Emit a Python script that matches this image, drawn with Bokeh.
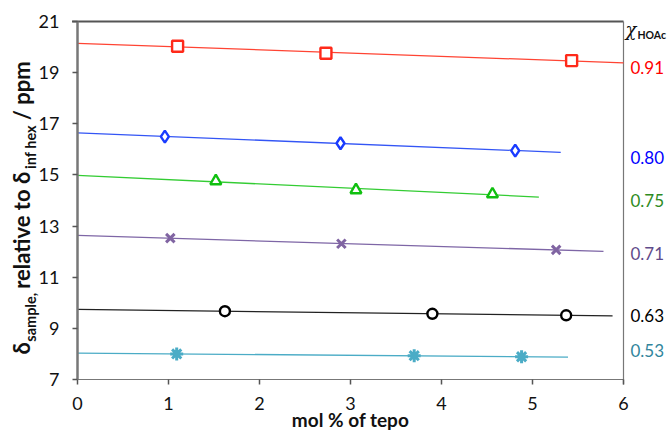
import numpy as np
from bokeh.plotting import figure
from bokeh.models import Range1d, FixedTicker, Label
from bokeh.embed import file_html
from bokeh.resources import INLINE

# ---- data ----
x_ticks = [0, 1, 2, 3, 4, 5, 6]
y_ticks = [7, 9, 11, 13, 15, 17, 19, 21]

x_091 = [1.10, 2.73, 5.43]
y_091 = [20.03, 19.76, 19.47]
x_080 = [0.96, 2.89, 4.81]
y_080 = [16.50, 16.24, 15.95]
x_075 = [1.52, 3.06, 4.56]
y_075 = [14.76, 14.41, 14.25]
x_071 = [1.02, 2.90, 5.26]
y_071 = [12.53, 12.31, 12.07]
x_063 = [1.62, 3.90, 5.37]
y_063 = [9.67, 9.57, 9.51]
x_053 = [1.09, 3.70, 4.88]
y_053 = [8.00, 7.93, 7.89]

# trendline extent (x) for each series
trend_end_091 = 6.0
trend_end_080 = 5.31
trend_end_075 = 5.07
trend_end_071 = 5.78
trend_end_063 = 5.88
trend_end_053 = 5.39

chi_labels = ["0.91", "0.80", "0.75", "0.71", "0.63", "0.53"]

FONT = "Lato"
W, H = 669, 432
# frame spans the whole canvas; axes are pinned at x=0 / y=7
px_per_x = 91.0
px_per_y = 25.571
x0_px, y21_px = 77.0, 21.0
x_start = x_ticks[0] - x0_px / px_per_x
x_end = x_start + W / px_per_x
y_end = y_ticks[-1] + y21_px / px_per_y
y_start = y_end - H / px_per_y


def py2y(py):
    return y_end - py / px_per_y


def px2x(px):
    return x_start + px / px_per_x


p = figure(width=W, height=H, output_backend="svg", toolbar_location=None,
           x_range=Range1d(x_start, x_end), y_range=Range1d(y_start, y_end),
           min_border=0, min_border_left=0, min_border_right=0,
           min_border_top=0, min_border_bottom=0)
p.grid.visible = False
p.outline_line_color = None

# frame box (top and right edges)
p.line([x_ticks[0] - 0.06, x_ticks[-1]], [y_ticks[-1], y_ticks[-1]],
       line_color="#555555", line_width=2)
p.line([x_ticks[-1], x_ticks[-1]], [y_ticks[0] - 0.2, y_ticks[-1]],
       line_color="#777777", line_width=1.2)

series = [
    (x_091, y_091, trend_end_091, "square", "#FF2A1A", "#FF4433", 11),
    (x_080, y_080, trend_end_080, "diamond", "#1A3CFF", "#3355F5", 12),
    (x_075, y_075, trend_end_075, "triangle", "#10C010", "#33CC33", 11),
    (x_071, y_071, trend_end_071, "x", "#8064A2", "#7E66A6", 12),
    (x_063, y_063, trend_end_063, "circle", "#000000", "#222222", 10),
    (x_053, y_053, trend_end_053, "asterisk", "#4BACC6", "#4BACC6", 13),
]

for xs, ys, xend, marker, mcol, lcol, size in series:
    k, b = np.polyfit(xs, ys, 1)
    tx = [x_ticks[0], xend]
    ty = [b + k * x_ticks[0], b + k * xend]
    p.line(tx, ty, line_color=lcol, line_width=1.3)
    open_marker = marker not in ("x", "asterisk")
    p.scatter(xs, ys, marker=marker, size=size, line_color=mcol,
              fill_color="white" if open_marker else None,
              line_width=2.4 if open_marker else 3.0)

# axes pinned to the data origin
p.xaxis.fixed_location = y_ticks[0]
p.yaxis.fixed_location = x_ticks[0]
p.xaxis.bounds = (x_ticks[0], x_ticks[-1])
p.yaxis.bounds = (y_ticks[0], y_ticks[-1])
p.xaxis.ticker = FixedTicker(ticks=x_ticks)
p.yaxis.ticker = FixedTicker(ticks=y_ticks)
for ax in (p.xaxis[0], p.yaxis[0]):
    ax.major_label_text_font = FONT
    ax.major_label_text_font_size = "18px"
    ax.major_label_text_color = "#111111"
    ax.minor_tick_line_color = None
    ax.major_tick_in = 0
    ax.major_tick_out = 5
p.yaxis.axis_line_width = 2.5
p.yaxis.axis_line_color = "#777777"
p.yaxis.major_tick_line_color = "#555555"
p.yaxis.major_tick_line_width = 1.5
p.yaxis.major_label_standoff = 13
p.xaxis.axis_line_color = "#777777"
p.xaxis.axis_line_width = 1.2
p.xaxis.major_tick_line_color = "#555555"
p.xaxis.major_tick_line_width = 1.5
p.xaxis.major_label_standoff = 13

# x axis title
p.add_layout(Label(x=3, y=py2y(419), text="mol % of tepo", text_font=FONT,
                   text_font_style="bold", text_font_size="19px",
                   text_align="center", text_baseline="middle",
                   text_color="#111111"))

# y axis title built from pieces (rotated, reading bottom to top)
ang = np.pi / 2
MAIN_FS, SUB_FS = 22, 14.5
main_x = px2x(21)
sub_x = px2x(30)
pieces = [  # text, is_sub, approx advance in em (incl. following gap)
    ("δ", False, 0.58),
    ("sample,", True, 3.65),
    ("relative to δ", False, 5.45),
    ("inf hex", True, 3.35),
    ("/ ppm", False, 2.6),
]
cur = 354.0
for txt, is_sub, em in pieces:
    fs = SUB_FS if is_sub else MAIN_FS
    p.add_layout(Label(x=sub_x if is_sub else main_x, y=py2y(cur), text=txt,
                       angle=ang, text_font=FONT, text_font_style="bold",
                       text_font_size=f"{fs}px", text_align="left",
                       text_baseline="middle", text_color="#111111"))
    cur -= em * fs

# right-side chi labels
p.add_layout(Label(x=px2x(625), y=py2y(29), text="χ", text_font="DejaVu Serif",
                   text_font_style="italic", text_font_size="18px",
                   text_align="left", text_baseline="middle", text_color="#111111"))
p.add_layout(Label(x=px2x(637), y=py2y(34), text="HOAc", text_font=FONT,
                   text_font_style="bold", text_font_size="10.5px",
                   text_align="left", text_baseline="middle", text_color="#111111"))

chi_py = [66.7, 156.7, 200, 253, 315, 350]
chi_colors = ["#FF0000", "#0000FF", "#2E8B22", "#5F4B8B", "#000000", "#31859C"]
for t, pyy, c in zip(chi_labels, chi_py, chi_colors):
    p.add_layout(Label(x=px2x(630), y=py2y(pyy), text=t, text_font=FONT,
                       text_font_size="17px", text_align="left",
                       text_baseline="middle", text_color=c))

open("out.html", "w").write(file_html(p, INLINE))
